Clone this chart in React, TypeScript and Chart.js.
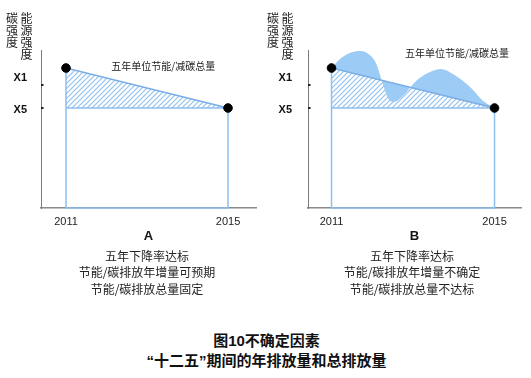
import React, { useEffect, useRef } from "react";
import { Chart, registerables } from "chart.js";

Chart.register(...registerables);

// ---------------- data ----------------
const xTickYears = [2011, 2015];
const xTickLabels = ["2011", "2015"];
const yTickLabelValues = [4.92, 6.5];
const yTickLabels = ["X5", "X1"];
const yTickMarkValues = [5, 6.15];
const targetYears = [2011, 2015];
const targetValues = [7, 5]; // X1 -> X5
const frameYears = [2011, 2011, 2015, 2015, 2011];
const frameValues = [7, 0, 0, 5, 5];
const curveYears = [2011, 2011.21, 2011.45, 2011.72, 2011.94, 2012.1, 2012.26, 2012.4, 2012.53, 2012.75, 2013.1, 2013.42, 2013.68, 2013.98, 2014.4, 2014.72, 2015];
const curveValues = [7.0, 7.45, 7.75, 7.85, 7.65, 7.2, 6.2, 5.45, 5.3, 5.6, 6.4, 6.8, 6.95, 6.7, 6.05, 5.35, 5.0];
const axisTitleColumns = ["碳强度", "能源强度"];
const annotationText = "五年单位节能/减碳总量";
const panelLetters = ["A", "B"];
const captionsA = ["五年下降率达标", "节能/碳排放年增量可预期", "节能/碳排放总量固定"];
const captionsB = ["五年下降率达标", "节能/碳排放年增量不确定", "节能/碳排放总量不达标"];
const figureTitle = ["图10不确定因素", "“十二五”期间的年排放量和总排放量"];

// ---------------- styling ----------------
const CJK = '"Noto Sans CJK SC", "Liberation Sans", sans-serif';
const LATIN = '"Liberation Sans", Arial, "Noto Sans CJK SC", sans-serif';
Chart.defaults.font.family = LATIN;

type PanelCfg = {
  letter: string;
  withCurve: boolean;
  width: number;
  xMin: number;
  xMax: number;
  yMax: number;
  axisWidth: number;
  padRight: number;
  yLabelPad: number;
  colX: number[];
  noteAt: { x: number; y: number };
};

const panels: PanelCfg[] = [
  {
    letter: panelLetters[0],
    withCurve: false,
    width: 265,
    xMin: 2010.383,
    xMax: 2015.691,
    yMax: 7.9,
    axisWidth: 41,
    padRight: 9,
    yLabelPad: 14,
    colX: [-29, -14.5],
    noteAt: { x: 2013.4, y: 7.1 },
  },
  {
    letter: panelLetters[1],
    withCurve: true,
    width: 266,
    xMin: 2010.423,
    xMax: 2015.65,
    yMax: 7.9,
    axisWidth: 43,
    padRight: 10,
    yLabelPad: 16,
    colX: [-35, -20.5],
    noteAt: { x: 2014.08, y: 7.75 },
  },
];

function makeHatch(): CanvasPattern | string {
  const c = document.createElement("canvas");
  c.width = 5;
  c.height = 5;
  const g = c.getContext("2d");
  if (!g) return "rgba(140,190,240,0.4)";
  g.strokeStyle = "#8fc0ef";
  g.lineWidth = 1.1;
  g.beginPath();
  g.moveTo(0, 5);
  g.lineTo(5, 0);
  g.moveTo(-1, 1);
  g.lineTo(1, -1);
  g.moveTo(4, 6);
  g.lineTo(6, 4);
  g.stroke();
  return g.createPattern(c, "repeat") || "rgba(140,190,240,0.4)";
}

function pts(xs: number[], ys: number[]) {
  return xs.map((x, i) => ({ x, y: ys[i] }));
}

function decorPlugin(cfg: PanelCfg) {
  return {
    id: "decor" + cfg.letter,
    afterDraw(chart: any) {
      const { ctx, chartArea, scales } = chart;
      const xs = scales.x;
      const ys = scales.y;
      ctx.save();
      // small tick marks on the y axis
      ctx.fillStyle = "#222";
      yTickMarkValues.forEach((v) => {
        const py = ys.getPixelForValue(v);
        ctx.fillRect(chartArea.left, py - 1, 2.5, 2);
      });
      // vertical axis titles
      ctx.font = "12px " + CJK;
      ctx.textAlign = "center";
      ctx.textBaseline = "middle";
      ctx.fillStyle = "#222";
      axisTitleColumns.forEach((word, ci) => {
        Array.from(word).forEach((ch, i) => {
          ctx.fillText(ch, chartArea.left + cfg.colX[ci], 18 + i * 12);
        });
      });
      // annotation
      ctx.font = "10px " + CJK;
      ctx.fillStyle = "#222";
      ctx.fillText(annotationText, xs.getPixelForValue(cfg.noteAt.x), ys.getPixelForValue(cfg.noteAt.y));
      ctx.restore();
    },
  };
}

function buildConfig(cfg: PanelCfg): any {
  const hatch = makeHatch();
  const datasets: any[] = [
    {
      label: "hatch",
      data: pts(targetYears, targetValues),
      showLine: true,
      borderWidth: 1,
      borderColor: "rgba(0,0,0,0)",
      pointRadius: 0,
      fill: { value: targetValues[1] },
      backgroundColor: hatch,
      order: 5,
      clip: false,
    },
  ];
  if (cfg.withCurve) {
    datasets.push({
      label: "curve",
      data: pts(curveYears, curveValues),
      showLine: true,
      borderWidth: 1,
      borderColor: "rgba(0,0,0,0)",
      pointRadius: 0,
      fill: 0,
      backgroundColor: "#9ccbf5",
      cubicInterpolationMode: "monotone",
      order: 4,
      clip: false,
    });
  }
  datasets.push(
    {
      label: "frame",
      data: pts(frameYears, frameValues),
      showLine: true,
      borderColor: "#8dbff0",
      borderWidth: 1.5,
      pointRadius: 0,
      fill: false,
      order: 3,
      clip: false,
    },
    {
      label: "line",
      data: pts(targetYears, targetValues),
      showLine: true,
      borderColor: "#7aaee6",
      borderWidth: 1.5,
      pointRadius: 0,
      fill: false,
      order: 2,
      clip: false,
    },
    {
      label: "points",
      data: pts(targetYears, targetValues),
      showLine: false,
      pointRadius: 4.3,
      pointBackgroundColor: "#000",
      pointBorderColor: "#000",
      fill: false,
      order: 1,
      clip: false,
    }
  );

  return {
    type: "scatter",
    data: { datasets },
    plugins: [decorPlugin(cfg)],
    options: {
      animation: false,
      responsive: false,
      layout: { padding: { left: 0, right: cfg.padRight, top: 50, bottom: 6 } },
      plugins: {
        legend: { display: false },
        tooltip: { enabled: false },
        title: { display: false },
      },
      scales: {
        x: {
          type: "linear",
          min: cfg.xMin,
          max: cfg.xMax,
          grid: { display: false, drawTicks: false },
          border: { display: true, color: "#8a8a8a", width: 1.5 },
          ticks: {
            font: { size: 11 },
            color: "#222",
            padding: 7,
            maxRotation: 0,
            autoSkip: false,
            callback: (_v: any, i: number) => xTickLabels[i],
          },
          afterBuildTicks: (s: any) => {
            s.ticks = xTickYears.map((v) => ({ value: v }));
          },
          afterFit: (s: any) => {
            s.height = 36;
          },
          title: {
            display: true,
            text: cfg.letter,
            font: { size: 13, weight: "bold" },
            color: "#111",
            padding: 0,
          },
        },
        y: {
          type: "linear",
          min: 0,
          max: cfg.yMax,
          grid: { display: false, drawTicks: false },
          border: { display: true, color: "#7a7a7a", width: 1 },
          ticks: {
            font: { size: 11, weight: "bold" },
            color: "#111",
            padding: cfg.yLabelPad,
            autoSkip: false,
            callback: (_v: any, i: number) => yTickLabels[i],
          },
          afterBuildTicks: (s: any) => {
            s.ticks = yTickLabelValues.map((v) => ({ value: v }));
          },
          afterFit: (s: any) => {
            s.width = cfg.axisWidth;
          },
        },
      },
    },
  };
}

function Panel({ cfg, left }: { cfg: PanelCfg; left: number }) {
  const ref = useRef<HTMLCanvasElement | null>(null);
  useEffect(() => {
    if (!ref.current) return;
    const chart = new Chart(ref.current, buildConfig(cfg));
    return () => chart.destroy();
  }, []);
  return (
    <canvas
      ref={ref}
      width={cfg.width}
      height={250}
      style={{ position: "absolute", left, top: 0, width: cfg.width, height: 250 }}
    />
  );
}

function Caption({ lines, center }: { lines: string[]; center: number }) {
  return (
    <div
      style={{
        position: "absolute",
        left: center - 110,
        width: 220,
        top: 247.5,
        textAlign: "center",
        fontFamily: CJK,
        fontSize: 12,
        lineHeight: "16.5px",
        color: "#222",
      }}
    >
      {lines.map((l, i) => (
        <div key={i}>{l}</div>
      ))}
    </div>
  );
}

export default function App() {
  return (
    <div
      style={{
        position: "fixed",
        left: 0,
        top: 0,
        width: 531,
        height: 378,
        background: "#fff",
        overflow: "hidden",
      }}
    >
      <Panel cfg={panels[0]} left={0} />
      <Panel cfg={panels[1]} left={265} />
      <Caption lines={captionsA} center={147} />
      <Caption lines={captionsB} center={412} />
      <div
        style={{
          position: "absolute",
          left: 0,
          width: 533,
          top: 330.5,
          textAlign: "center",
          fontFamily: LATIN,
          fontSize: 15,
          fontWeight: "bold",
          lineHeight: "20px",
          color: "#111",
        }}
      >
        {figureTitle.map((l, i) => (
          <div key={i}>{l}</div>
        ))}
      </div>
    </div>
  );
}
